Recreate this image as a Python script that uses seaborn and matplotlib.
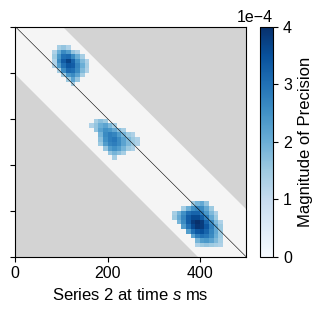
import numpy as np
import matplotlib
matplotlib.use("Agg")
import matplotlib.pyplot as plt
import matplotlib.ticker as mticker
from matplotlib.patches import Polygon
import seaborn as sns

# time grid (ms)
BIN_MS = 10
N_BINS = 50
BAND_MS = 103          # half width of the shown band around the diagonal
UNIT = 1e-4            # values below are in units of 1e-4

# each entry: (row bin, first column bin, values along the row)
BLOB1 = [
    (4, 9, [1.4, 1.6, 1.3]),
    (5, 8, [1.3, 2.0, 2.6, 2.3, 1.6, 1.3]),
    (6, 8, [1.5, 2.4, 3.0, 3.1, 2.6, 2.0, 1.4]),
    (7, 8, [1.3, 2.6, 3.3, 3.7, 3.2, 2.5, 1.8, 1.3]),
    (8, 8, [1.3, 2.3, 3.0, 3.4, 3.3, 2.7, 2.0, 1.4]),
    (9, 9, [1.4, 2.6, 3.1, 3.0, 2.6, 1.8, 1.3]),
    (10, 10, [1.5, 2.4, 2.6, 2.2, 1.4]),
    (11, 11, [1.5, 2.2, 1.6]),
    (12, 12, [1.4]),
]
BLOB2 = [
    (20, 17, [1.4, 1.7, 1.5]),
    (21, 16, [1.3, 1.6, 2.0, 2.2, 1.8, 1.4]),
    (22, 17, [1.6, 2.2, 2.5, 2.4, 2.1, 1.7, 1.4]),
    (23, 18, [1.9, 2.6, 2.8, 2.7, 2.3, 1.9, 1.5, 1.3]),
    (24, 18, [1.7, 2.5, 2.8, 2.9, 2.6, 2.2, 1.8, 1.5, 1.3]),
    (25, 18, [1.5, 2.3, 2.7, 2.8, 2.6, 2.2, 1.8, 1.5, 1.3]),
    (26, 19, [1.6, 2.3, 2.5, 2.3, 1.9, 1.5, 1.3]),
    (27, 20, [1.6, 1.9, 1.7, 1.4]),
    (28, 21, [1.4]),
]
BLOB3 = [
    (38, 38, [1.5, 1.9, 2.1, 1.6]),
    (39, 36, [1.4, 2.0, 2.5, 2.7, 2.6, 2.1, 1.5]),
    (40, 34, [1.4, 1.9, 2.5, 3.0, 3.2, 3.2, 2.9, 2.4, 1.8, 1.3]),
    (41, 34, [1.5, 2.1, 2.7, 3.3, 3.6, 3.6, 3.3, 2.8, 2.1, 1.5]),
    (42, 35, [1.9, 2.6, 3.3, 3.8, 4.0, 3.8, 3.2, 2.6, 1.8, 1.3]),
    (43, 36, [2.3, 3.0, 3.6, 3.9, 3.8, 3.4, 2.8, 2.1, 1.5]),
    (44, 37, [2.3, 3.0, 3.4, 3.5, 3.2, 2.7, 2.1, 1.5]),
    (45, 38, [2.2, 2.8, 3.0, 2.9, 2.6, 2.0, 1.5]),
    (46, 39, [1.9, 2.3, 2.4, 2.2, 1.8, 1.4]),
    (47, 39, [1.3, 1.5, 1.6, 1.5, 1.4, 1.3]),
]
X_TICKS_MS = [0, 200, 400]
Y_TICKS_MS = [0, 100, 200, 300, 400, 500]

sns.set_style("ticks")
plt.rcParams.update({
    "font.family": ["Liberation Sans", "DejaVu Sans"],
    "font.size": 11.5,
    "mathtext.fontset": "custom",
    "mathtext.rm": "Liberation Sans",
    "mathtext.it": "Liberation Sans:italic",
    "text.color": "black",
    "axes.labelcolor": "black",
    "axes.edgecolor": "black",
    "axes.linewidth": 0.8,
    "xtick.color": "black",
    "ytick.color": "black",
    "xtick.labelsize": 11.5,
    "ytick.labelsize": 11.5,
})

prec = np.zeros((N_BINS, N_BINS))
for blob in (BLOB1, BLOB2, BLOB3):
    for row, col, vals in blob:
        prec[row, col:col + len(vals)] = np.array(vals) * UNIT

fig = plt.figure(figsize=(3.22, 3.13), dpi=100)
ax = fig.add_axes([0.0475, 0.18, 0.7165, 0.735])
cax = fig.add_axes([0.8084, 0.18, 0.0404, 0.735])

ax.set_facecolor("#f5f5f5")
sns.heatmap(prec, mask=prec == 0, cmap="Blues", vmin=0, vmax=4 * UNIT,
            ax=ax, cbar_ax=cax, xticklabels=False, yticklabels=False)

# grey outside the band |t - s| <= BAND_MS (heatmap coords are bins)
b = BAND_MS / BIN_MS
n = N_BINS
for pts in ([(b, 0), (n, 0), (n, n - b)], [(0, b), (0, n), (n - b, n)]):
    ax.add_patch(Polygon(pts, closed=True, facecolor="#d3d3d3",
                         edgecolor="none", zorder=0.5))
ax.plot([0, n], [0, n], color="black", lw=0.4, zorder=3)

ax.set_xticks(np.array(X_TICKS_MS) / BIN_MS)
ax.set_xticklabels([str(t) for t in X_TICKS_MS], rotation=0)
ax.set_yticks(np.array(Y_TICKS_MS) / BIN_MS)
ax.set_yticklabels([])
ax.tick_params(length=3.5, width=0.8, direction="out")
ax.set_xlabel("Series 2 at time $s$ ms", fontsize=12)
for sp in ax.spines.values():
    sp.set_visible(True)
    sp.set_linewidth(0.8)
    sp.set_color("black")

cb = ax.collections[0].colorbar
cb.outline.set_linewidth(0.8)
cb.outline.set_edgecolor("black")
cb.set_ticks([0, 1 * UNIT, 2 * UNIT, 3 * UNIT, 4 * UNIT])
fmt = mticker.ScalarFormatter(useMathText=False)
fmt.set_powerlimits((0, 0))
cb.ax.yaxis.set_major_formatter(fmt)
cb.ax.tick_params(length=3.5, width=0.8, labelsize=11.5)
cb.ax.yaxis.get_offset_text().set_fontsize(11.5)
cb.set_label("Magnitude of Precision", fontsize=12)

fig.savefig("out.png", dpi=100)
